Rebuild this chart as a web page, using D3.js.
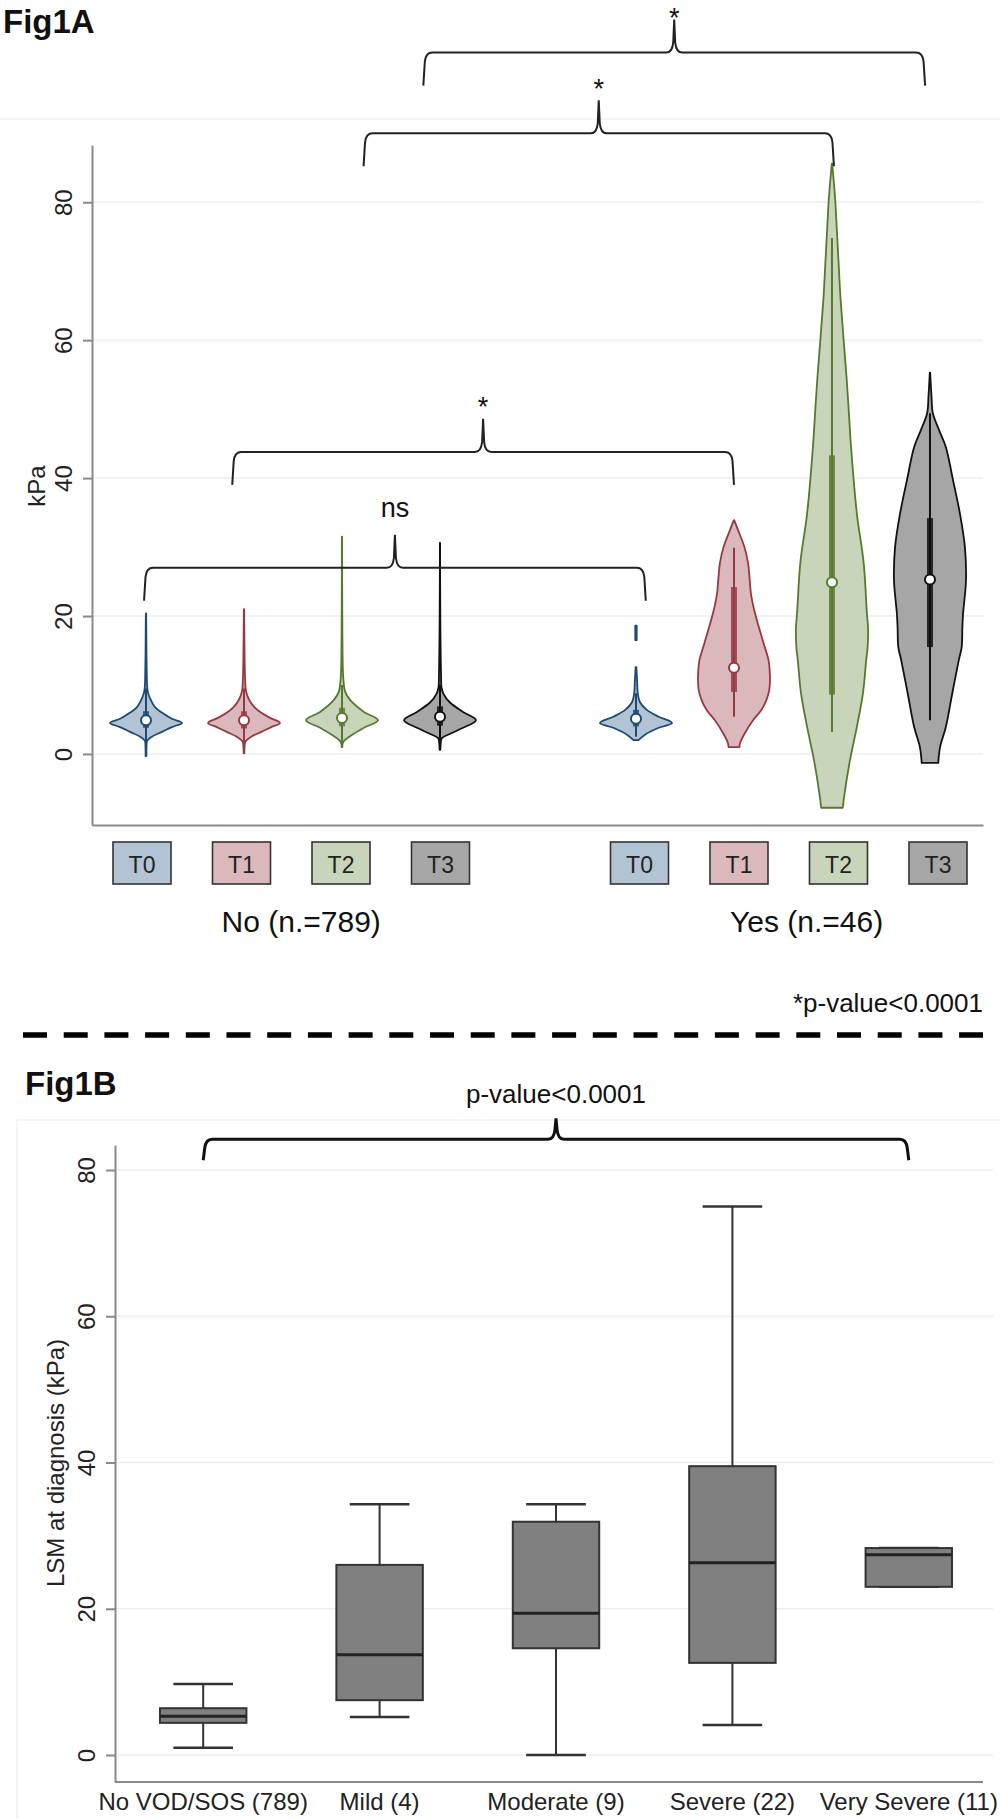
<!DOCTYPE html>
<html>
<head>
<meta charset="utf-8">
<script src="https://cdn.jsdelivr.net/npm/d3@7"></script>
<style>
  body { margin: 0; background: #fff; }
  svg text { font-family: "Liberation Sans", Arial, Helvetica, sans-serif; fill: #222; }
</style>
</head>
<body>
<svg id="chart" width="1000" height="1819"></svg>
<script>
// ---------- Fig1A data ----------
const timeLabels = ["T0", "T1", "T2", "T3"];
const groupLabels = ["No (n.=789)", "Yes (n.=46)"];
const groupLabelSlot = [1.6, 6.68];
const violinSlots = [0, 1, 2, 3, 5, 6, 7, 8];
const violinTime = [0, 1, 2, 3, 0, 1, 2, 3];

// [kPa, relative density]
const densNoT0 = [[-0.3, 0.01], [1.0, 0.015], [1.9, 0.03], [2.5, 0.16], [3.2, 0.44], [3.9, 0.72], [4.5, 1.0], [5.1, 0.72], [6.0, 0.44], [6.8, 0.25], [8.1, 0.11], [9.0, 0.05], [10, 0.03], [12, 0.02], [15, 0.012], [18, 0.008], [20.4, 0.004]];
const densNoT1 = [[0.1, 0.01], [1.0, 0.015], [1.8, 0.04], [2.5, 0.2], [3.2, 0.48], [3.9, 0.76], [4.5, 1.0], [5.2, 0.74], [6.0, 0.47], [6.9, 0.27], [8.1, 0.12], [9.3, 0.05], [11, 0.03], [13, 0.02], [16, 0.012], [21, 0.004]];
const densNoT2 = [[1.0, 0.01], [1.7, 0.03], [2.6, 0.23], [3.8, 0.61], [4.9, 1.0], [6.1, 0.61], [7.8, 0.23], [9.0, 0.09], [10.7, 0.04], [12, 0.025], [15, 0.015], [19, 0.01], [23, 0.006], [27, 0.004], [31.5, 0.003]];
const densNoT3 = [[0.6, 0.01], [1.5, 0.02], [2.3, 0.05], [2.9, 0.27], [3.8, 0.64], [4.9, 1.0], [6.1, 0.64], [7.5, 0.27], [8.8, 0.09], [9.7, 0.04], [11.2, 0.03], [14, 0.02], [18, 0.012], [21.3, 0.008], [26, 0.004], [30.6, 0.003]];
const densYesT0 = [[2.0, 0.07], [2.8, 0.25], [3.8, 0.63], [4.5, 1.0], [5.4, 0.63], [6.4, 0.3], [7.5, 0.11], [8.8, 0.05], [10.7, 0.03], [12.6, 0.01], [13.2, 0], [16.3, 0], [16.5, 0.02], [18.6, 0.02], [18.8, 0]];
const densYesT1 = [[1.0, 0.15], [1.6, 0.17], [3.0, 0.3], [4.9, 0.53], [6.3, 0.75], [7.8, 0.9], [9.3, 0.98], [10.7, 1.0], [12.2, 0.99], [13.6, 0.96], [16.1, 0.82], [18.4, 0.69], [20.9, 0.56], [23.3, 0.47], [25.7, 0.43], [27.7, 0.39], [30.0, 0.29], [32.5, 0.11], [33.9, 0.005]];
const densYesT2 = [[-7.8, 0.3], [-5.7, 0.35], [-0.9, 0.5], [3.9, 0.69], [8.8, 0.86], [13.6, 0.95], [15.5, 0.99], [18.4, 1.0], [20.4, 0.97], [27.7, 0.88], [34.9, 0.69], [44.5, 0.53], [49.4, 0.47], [54.2, 0.41], [65.8, 0.24], [70.6, 0.19], [75.5, 0.14], [80.3, 0.09], [83, 0.05], [85.6, 0.005]];
const densYesT3 = [[-1.3, 0.23], [1.0, 0.28], [3.9, 0.44], [8.8, 0.62], [13.6, 0.8], [15.5, 0.88], [18.4, 0.9], [20.4, 0.92], [22, 0.95], [25.2, 1.0], [30.0, 0.97], [34.9, 0.83], [39.7, 0.64], [44.5, 0.44], [47, 0.25], [49.4, 0.08], [52, 0.04], [55.3, 0.005]];

const medians = [4.9, 4.9, 5.2, 5.4, 5.1, 12.5, 24.9, 25.3];
const q1 = [3.8, 3.7, 4.0, 4.1, 4.0, 9.0, 8.6, 15.5];
const q3 = [6.2, 6.2, 6.7, 6.9, 6.4, 24.2, 43.3, 34.2];
const whiskLo = [1.5, 1.3, 1.7, 2.0, 2.5, 5.4, 3.2, 4.9];
const whiskHi = [9.5, 9.5, 10, 10, 8.8, 29.9, 74.8, 49.4];

// brackets: slot positions of both ends, level of the bar (kPa), label
const bracketFrom = [-0.02, 0.88, 2.22, 2.83];
const bracketTo = [5.1, 6.0, 7.02, 7.95];
const bracketLevel = [27.0, 43.8, 90.0, 101.7];
const bracketLabel = ["ns", "*", "*", "*"];

// ---------- Fig1B data ----------
const severityCats = ["No VOD/SOS (789)", "Mild (4)", "Moderate (9)", "Severe (22)", "Very Severe (11)"];
const boxLo = [1.0, 5.2, 0.0, 4.1, 23.0];
const boxQ1 = [4.4, 7.5, 14.6, 12.6, 23.0];
const boxMed = [5.3, 13.7, 19.4, 26.3, 27.4];
const boxQ3 = [6.4, 26.0, 31.9, 39.5, 28.3];
const boxHi = [9.7, 34.3, 34.3, 75.0, 28.3];
const yTicks = [0, 20, 40, 60, 80];

const violinDens = [densNoT0, densNoT1, densNoT2, densNoT3, densYesT0, densYesT1, densYesT2, densYesT3];
const lineCols = ["#1c4a73", "#963a42", "#57792f", "#111111"];
const fillCols = ["#b2c4d4", "#dab8bc", "#c9d5ba", "#a6a6a6"];
const font = '"Liberation Sans", Arial, Helvetica, sans-serif';

const svg = d3.select("#chart");

function bracePath(x0, x1, yH, drop, rise) {
  const xm = (x0 + x1) / 2;
  const p = d3.path();
  p.moveTo(x0, yH + drop);
  p.lineTo(x0 + 1.5, yH + 9);
  p.quadraticCurveTo(x0 + 2.5, yH, x0 + 9, yH);
  p.lineTo(xm - 8, yH);
  p.quadraticCurveTo(xm - 2, yH, xm - 1, yH - 10);
  p.lineTo(xm, yH - rise);
  p.lineTo(xm + 1, yH - 10);
  p.quadraticCurveTo(xm + 2, yH, xm + 8, yH);
  p.lineTo(x1 - 9, yH);
  p.quadraticCurveTo(x1 - 2.5, yH, x1 - 1.5, yH + 9);
  p.lineTo(x1, yH + drop);
  return p.toString();
}

// faint graph-region borders
svg.append("line").attr("x1", 0).attr("x2", 1000).attr("y1", 119).attr("y2", 119)
  .attr("stroke", "#edf3f3").attr("stroke-width", 1.5);
svg.append("line").attr("x1", 17).attr("x2", 1000).attr("y1", 1120).attr("y2", 1120)
  .attr("stroke", "#edf3f3").attr("stroke-width", 1.5);
svg.append("line").attr("x1", 17).attr("x2", 17).attr("y1", 1120).attr("y2", 1819)
  .attr("stroke", "#edf3f3").attr("stroke-width", 1.5);

// ================= Fig1A =================
svg.append("text").attr("x", 3).attr("y", 33)
  .style("font-size", "33px").style("font-weight", "bold").style("fill", "#111")
  .text("Fig1A");

let xA = d3.scaleLinear().domain([-0.551, 8.541]).range([92, 983]);
let yA = d3.scaleLinear().domain([-10.3, 88.3]).range([825, 145]);
let wA = d3.scaleLinear().domain([0, 1]).range([0, 36]);

let gA = svg.append("g");

gA.selectAll(".gridA")
  .data(yTicks)
  .enter()
  .append("line")
  .attr("class", "gridA")
  .attr("x1", xA.range()[0])
  .attr("x2", xA.range()[1])
  .attr("y1", (d) => yA(d))
  .attr("y2", (d) => yA(d))
  .attr("stroke", "#e8f0f1")
  .attr("stroke-width", 1.5);

let axisA = gA.append("g")
  .attr("transform", `translate(${xA.range()[0]},0)`)
  .call(d3.axisLeft(yA).tickValues(yTicks).tickSize(9).tickSizeOuter(0))
  .attr("font-family", font);
axisA.select(".domain").attr("stroke", "#8a8a8a").attr("stroke-width", 2);
axisA.selectAll(".tick line").attr("stroke", "#8a8a8a").attr("stroke-width", 2);
axisA.selectAll(".tick text")
  .attr("transform", "rotate(-90)")
  .attr("x", 0).attr("y", -20).attr("dy", 0)
  .attr("text-anchor", "middle")
  .style("font-size", "24px");

let axisAx = gA.append("g")
  .attr("transform", `translate(0,${yA.range()[0]})`)
  .call(d3.axisBottom(xA).tickValues([]).tickSizeOuter(0));
axisAx.select(".domain").attr("stroke", "#8a8a8a").attr("stroke-width", 2);

gA.append("text")
  .attr("transform", `translate(45,486) rotate(-90)`)
  .attr("text-anchor", "middle")
  .style("font-size", "24px")
  .text("kPa");

// violins
let violins = gA.selectAll(".violin")
  .data(violinDens.map((dens, i) => ({ dens, i })))
  .enter()
  .append("g")
  .attr("class", "violin");

violins.append("path")
  .attr("d", (d) => {
    const cx = xA(violinSlots[d.i]);
    return d3.area()
      .defined((p) => p[1] > 0)
      .y((p) => yA(p[0]))
      .x0((p) => cx - wA(p[1]))
      .x1((p) => cx + wA(p[1]))
      .curve(d3.curveCatmullRom)(d.dens);
  })
  .attr("fill", (d) => fillCols[violinTime[d.i]])
  .attr("stroke", (d) => lineCols[violinTime[d.i]])
  .attr("stroke-width", 1.8)
  .attr("stroke-linejoin", "round");

violins.append("line")
  .attr("x1", (d) => xA(violinSlots[d.i]))
  .attr("x2", (d) => xA(violinSlots[d.i]))
  .attr("y1", (d) => yA(whiskLo[d.i]))
  .attr("y2", (d) => yA(whiskHi[d.i]))
  .attr("stroke", (d) => lineCols[violinTime[d.i]])
  .attr("stroke-width", 2);

violins.append("rect")
  .attr("x", (d) => xA(violinSlots[d.i]) - 3)
  .attr("width", 6)
  .attr("y", (d) => yA(q3[d.i]))
  .attr("height", (d) => yA(q1[d.i]) - yA(q3[d.i]))
  .attr("fill", (d) => lineCols[violinTime[d.i]])
  .attr("opacity", 0.85);

violins.append("circle")
  .attr("cx", (d) => xA(violinSlots[d.i]))
  .attr("cy", (d) => yA(medians[d.i]))
  .attr("r", 5)
  .attr("fill", "#fff")
  .attr("stroke", (d) => lineCols[violinTime[d.i]])
  .attr("stroke-width", 2);

// brackets
bracketLevel.forEach((lvl, i) => {
  const x0 = xA(bracketFrom[i]);
  const x1 = xA(bracketTo[i]);
  const yH = yA(lvl);
  const rise = 33;
  gA.append("path")
    .attr("d", bracePath(x0, x1, yH, 33, rise))
    .attr("fill", "none")
    .attr("stroke", "#222")
    .attr("stroke-width", 2);
  const isStar = bracketLabel[i] === "*";
  const peak = yH - rise;
  gA.append("text")
    .attr("x", (x0 + x1) / 2)
    .attr("y", isStar ? Math.max(peak - 2.5, 27) : peak - 18)
    .attr("text-anchor", "middle")
    .style("font-size", isStar ? "27px" : "27px")
    .style("fill", "#111")
    .text(bracketLabel[i]);
});

// legend boxes under the violins
let xLeg = d3.scaleLinear().domain([0, 8]).range([142, 938]);
let legend = gA.selectAll(".legbox")
  .data(violinSlots.map((s, i) => ({ s, t: violinTime[i] })))
  .enter()
  .append("g")
  .attr("class", "legbox")
  .attr("transform", (d) => `translate(${xLeg(d.s)},863)`);

legend.append("rect")
  .attr("x", -29).attr("y", -21).attr("width", 58).attr("height", 42)
  .attr("fill", (d) => fillCols[d.t])
  .attr("stroke", "#333")
  .attr("stroke-width", 1.6);

legend.append("text")
  .attr("y", 10)
  .attr("text-anchor", "middle")
  .style("font-size", "23px")
  .text((d) => timeLabels[d.t]);

gA.selectAll(".grouplab")
  .data(groupLabels)
  .enter()
  .append("text")
  .attr("class", "grouplab")
  .attr("x", (d, i) => xLeg(groupLabelSlot[i]))
  .attr("y", 932)
  .attr("text-anchor", "middle")
  .style("font-size", "30px")
  .style("fill", "#111")
  .text((d) => d);

svg.append("text")
  .attr("x", 983).attr("y", 1012)
  .attr("text-anchor", "end")
  .style("font-size", "26px")
  .style("fill", "#111")
  .text("*p-value<0.0001");

svg.append("line")
  .attr("x1", 23).attr("x2", 983).attr("y1", 1035).attr("y2", 1035)
  .attr("stroke", "#000")
  .attr("stroke-width", 5.5)
  .attr("stroke-dasharray", "24,16.7");

// ================= Fig1B =================
svg.append("text").attr("x", 25).attr("y", 1095)
  .style("font-size", "33px").style("font-weight", "bold").style("fill", "#111")
  .text("Fig1B");

let xB = d3.scaleBand().domain(severityCats).range([115, 997]).paddingInner(0.51).paddingOuter(0.255);
let yB = d3.scaleLinear().domain([-3.69, 83.42]).range([1782, 1145]);

let gB = svg.append("g");

gB.selectAll(".gridB")
  .data(yTicks)
  .enter()
  .append("line")
  .attr("class", "gridB")
  .attr("x1", 115)
  .attr("x2", 993)
  .attr("y1", (d) => yB(d))
  .attr("y2", (d) => yB(d))
  .attr("stroke", "#e8f0f1")
  .attr("stroke-width", 1.5);

let axisB = gB.append("g")
  .attr("transform", "translate(115,0)")
  .call(d3.axisLeft(yB).tickValues(yTicks).tickSize(9).tickSizeOuter(0))
  .attr("font-family", font);
axisB.select(".domain").attr("stroke", "#8a8a8a").attr("stroke-width", 2);
axisB.selectAll(".tick line").attr("stroke", "#8a8a8a").attr("stroke-width", 2);
axisB.selectAll(".tick text")
  .attr("transform", "rotate(-90)")
  .attr("x", 0).attr("y", -20).attr("dy", 0)
  .attr("text-anchor", "middle")
  .style("font-size", "24px");

let axisBx = gB.append("g")
  .attr("transform", `translate(0,${yB.range()[0]})`)
  .call(d3.axisBottom(xB).tickSize(0).tickPadding(11))
  .attr("font-family", font);
axisBx.select(".domain").remove();
axisBx.selectAll(".tick text").style("font-size", "24px");
gB.append("line")
  .attr("x1", 115).attr("x2", 983)
  .attr("y1", yB.range()[0]).attr("y2", yB.range()[0])
  .attr("stroke", "#8a8a8a").attr("stroke-width", 2);

gB.append("text")
  .attr("transform", "translate(64,1463) rotate(-90)")
  .attr("text-anchor", "middle")
  .style("font-size", "24px")
  .text("LSM at diagnosis (kPa)");

let boxes = gB.selectAll(".box")
  .data(severityCats)
  .enter()
  .append("g")
  .attr("class", "box")
  .attr("transform", (d) => `translate(${xB(d) + xB.bandwidth() / 2},0)`);

const capW = xB.bandwidth() * 0.69;

boxes.append("line")
  .attr("y1", (d, i) => yB(boxLo[i]))
  .attr("y2", (d, i) => yB(boxHi[i]))
  .attr("stroke", "#333").attr("stroke-width", 2);

boxes.append("line")
  .attr("x1", -capW / 2).attr("x2", capW / 2)
  .attr("y1", (d, i) => yB(boxHi[i])).attr("y2", (d, i) => yB(boxHi[i]))
  .attr("stroke", "#333").attr("stroke-width", 2.5);

boxes.append("line")
  .attr("x1", -capW / 2).attr("x2", capW / 2)
  .attr("y1", (d, i) => yB(boxLo[i])).attr("y2", (d, i) => yB(boxLo[i]))
  .attr("stroke", "#333").attr("stroke-width", 2.5);

boxes.append("rect")
  .attr("x", -xB.bandwidth() / 2)
  .attr("width", xB.bandwidth())
  .attr("y", (d, i) => yB(boxQ3[i]))
  .attr("height", (d, i) => yB(boxQ1[i]) - yB(boxQ3[i]))
  .attr("fill", "#808080")
  .attr("stroke", "#333")
  .attr("stroke-width", 2);

boxes.append("line")
  .attr("x1", -xB.bandwidth() / 2).attr("x2", xB.bandwidth() / 2)
  .attr("y1", (d, i) => yB(boxMed[i])).attr("y2", (d, i) => yB(boxMed[i]))
  .attr("stroke", "#222").attr("stroke-width", 3);

// Fig1B bracket
const bx0 = xB(severityCats[0]) + xB.bandwidth() / 2;
const bx1 = xB(severityCats[4]) + xB.bandwidth() / 2;
const byH = yB(84.2);
gB.append("path")
  .attr("d", bracePath(bx0, bx1, byH, 21, 21))
  .attr("fill", "none")
  .attr("stroke", "#111")
  .attr("stroke-width", 3);
gB.append("text")
  .attr("x", (bx0 + bx1) / 2)
  .attr("y", byH - 36)
  .attr("text-anchor", "middle")
  .style("font-size", "26px")
  .style("fill", "#111")
  .text("p-value<0.0001");
</script>
</body>
</html>
